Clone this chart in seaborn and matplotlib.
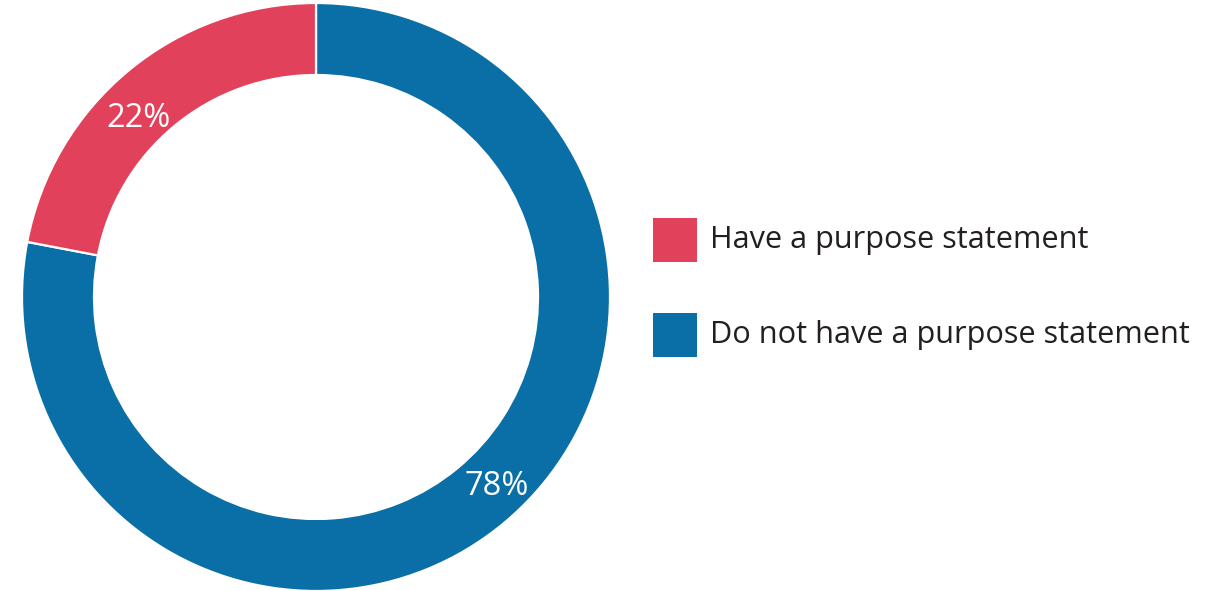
import matplotlib
matplotlib.use("Agg")
import matplotlib.pyplot as plt
from matplotlib.patches import Rectangle
import numpy as np
import seaborn as sns

# Share of respondents by whether they have a purpose statement
categories = ["Have a purpose statement", "Do not have a purpose statement"]
shares = [22, 78]
colors = ["#E2415B", "#0A6FA6"]

sns.set_theme(style="white")
plt.rcParams["font.family"] = ["Open Sans", "DejaVu Sans"]

W, H = 1218, 591
fig = plt.figure(figsize=(W / 100, H / 100), dpi=100)
ax = fig.add_axes([0, 0, 1, 1])

cx, cy, r_out = 316, 294, 294
ring = 72

# Ring chart: blue runs clockwise from 12 o'clock, red closes the circle
ax.pie(
    shares[::-1],
    colors=colors[::-1],
    startangle=90,
    counterclock=False,
    center=(cx, cy),
    radius=r_out,
    wedgeprops=dict(width=ring, edgecolor="white", linewidth=1.6),
    frame=True,
)
ax.set_xlim(0, W)
ax.set_ylim(0, H)
ax.set_aspect("equal")
ax.axis("off")

# Percentage labels inside the ring
label_pos = {"Have a purpose statement": (252, 134.8),
             "Do not have a purpose statement": (262, -46.4)}
for cat, val in zip(categories, shares):
    r, ang = label_pos[cat]
    a = np.deg2rad(ang)
    ax.text(cx + r * np.cos(a), cy + r * np.sin(a), f"{val}%",
            color="white", fontsize=23.5, ha="center", va="center")

# Legend: colour keys with labels
key = 44
key_x, text_x = 653, 710
row_centers = [240, 335]  # from the top edge
for cat, c, yc in zip(categories, colors, row_centers):
    y = H - yc
    ax.add_patch(Rectangle((key_x, y - key / 2), key, key, facecolor=c,
                           edgecolor="none"))
    ax.text(text_x, y, cat, fontsize=22.1, color="#231F20",
            ha="left", va="center")

fig.savefig("out.png", dpi=100, facecolor="white")
